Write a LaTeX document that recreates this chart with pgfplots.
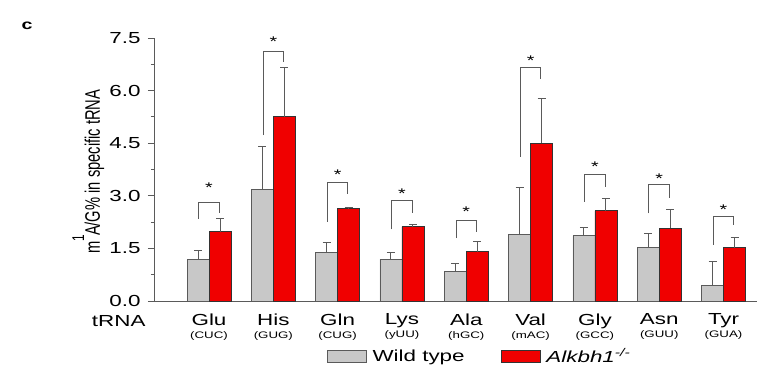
\documentclass[border=0pt]{standalone}
\usepackage{pgfplots}
\pgfplotsset{compat=1.18}
\usepackage{pgfplotstable}
\usepackage{graphicx}
\usepackage{fontspec}
\setmainfont[FakeStretch=1.4]{Liberation Sans}
\newfontfamily\ylfont{Liberation Sans}
\definecolor{wtgray}{RGB}{200,200,200}
\definecolor{kored}{RGB}{240,0,0}
\definecolor{ebar}{RGB}{90,90,90}
\pgfplotstableread{
idx gray gerr red rerr
0 1.19 0.26 1.98 0.37
1 3.19 1.21 5.26 1.40
2 1.39 0.27 2.63 0.05
3 1.19 0.19 2.12 0.05
4 0.84 0.23 1.41 0.30
5 1.90 1.34 4.50 1.28
6 1.86 0.23 2.57 0.36
7 1.53 0.40 2.07 0.54
8 0.45 0.67 1.52 0.28
}\datatable
\newcommand{\brk}[5]{%
  \draw[ebar, line width=1pt] (axis cs:#1-0.16,#2) |- (axis cs:#1+0.16,#3) -- (axis cs:#1+0.16,#4);
  \node[font=\fontsize{14}{14}\selectfont, anchor=center] at (axis cs:#1,#5) {*};
}
\newcommand{\sub}[1]{{\fontsize{9.5}{9.5}\selectfont (#1)}}
\begin{document}
\begin{tikzpicture}
\path[use as bounding box] (-155pt,-72pt) rectangle (605pt,301pt);
\begin{axis}[
  scale only axis,
  width=602pt, height=263pt,
  xmin=-0.84, xmax=8.52,
  ymin=0, ymax=7.5,
  axis x line=bottom, axis y line=left,
  axis line style={-, ebar, line width=1pt},
  ytick={0,1.5,...,7.5},
  minor ytick={0.75,2.25,3.75,5.25,6.75},
  /pgf/number format/fixed, /pgf/number format/fixed zerofill, /pgf/number format/precision=1,
  /pgf/number format/assume math mode=true,
  tick align=outside,
  major tick length=7pt, minor tick length=4pt,
  tick style={ebar, line width=1pt},
  ticklabel style={font=\fontsize{16}{18}\selectfont},
  yticklabel style={xshift=-4pt},
  xtick={0,...,8},
  xtick style={draw=none},
  xticklabel style={align=center, yshift=-2pt},
  xticklabels={
    {Glu\\[-5pt]\sub{CUC}},
    {His\\[-5pt]\sub{GUG}},
    {Gln\\[-5pt]\sub{CUG}},
    {Lys\\[-5pt]\sub{yUU}},
    {Ala\\[-5pt]\sub{hGC}},
    {Val\\[-5pt]\sub{mAC}},
    {Gly\\[-5pt]\sub{GCC}},
    {Asn\\[-5pt]\sub{GUU}},
    {Tyr\\[-5pt]\sub{GUA}}},
  ybar, bar width=0.342,
  error bars/y dir=plus, error bars/y explicit,
  error bars/error bar style={ebar, line width=1pt},
  error bars/error mark options={rotate=90, ebar, mark size=4pt, line width=1pt},
  legend style={at={(rel axis cs:0.28,-0.165)}, anchor=north west, draw=none, fill=none,
    legend columns=2, font=\fontsize{16}{18}\selectfont,
    /tikz/every odd column/.append style={column sep=4pt},
    /tikz/every even column/.append style={column sep=34pt}},
  legend image code/.code={\draw[#1] (0pt,-6pt) rectangle (39pt,6pt);},
  clip=false,
]
\addplot[fill=wtgray, draw=ebar, line width=0.8pt, bar shift=-0.171] table[x=idx, y=gray, y error=gerr] {\datatable};
\addplot[fill=kored, draw=black!80, line width=0.8pt, bar shift=0.171] table[x=idx, y=red, y error=rerr] {\datatable};
\legend{Wild type, \textit{Alkbh1\textsuperscript{-/-}}}
\brk{0}{2.34}{2.80}{2.51}{3.22}
\brk{1}{4.73}{7.11}{6.82}{7.39}
\brk{2}{2.26}{3.37}{3.04}{3.59}
\brk{3}{2.04}{2.86}{2.52}{3.05}
\brk{4}{1.79}{2.31}{1.98}{2.55}
\brk{5}{4.11}{6.65}{6.32}{6.85}
\brk{6}{2.83}{3.62}{3.26}{3.83}
\brk{7}{2.50}{3.31}{2.95}{3.50}
\brk{8}{1.60}{2.40}{2.17}{2.59}
\node[anchor=base east, font=\fontsize{16}{18}\selectfont] at ([xshift=-6pt,yshift=-25pt]rel axis cs:0,0) {tRNA};
\node[rotate=90, anchor=base, inner sep=0pt] at ([xshift=-55pt]rel axis cs:0,0.492)
  {\scalebox{0.7}[1]{\ylfont\fontsize{21}{24}\selectfont m\kern-1pt\raisebox{0.75em}{\fontsize{17}{17}\selectfont 1}\kern-1pt A/G\% in specific tRNA}};
\end{axis}
\node[anchor=base west, font=\bfseries\fontsize{14}{14}\selectfont] at (-137pt,271.5pt) {c};
\end{tikzpicture}
\end{document}
